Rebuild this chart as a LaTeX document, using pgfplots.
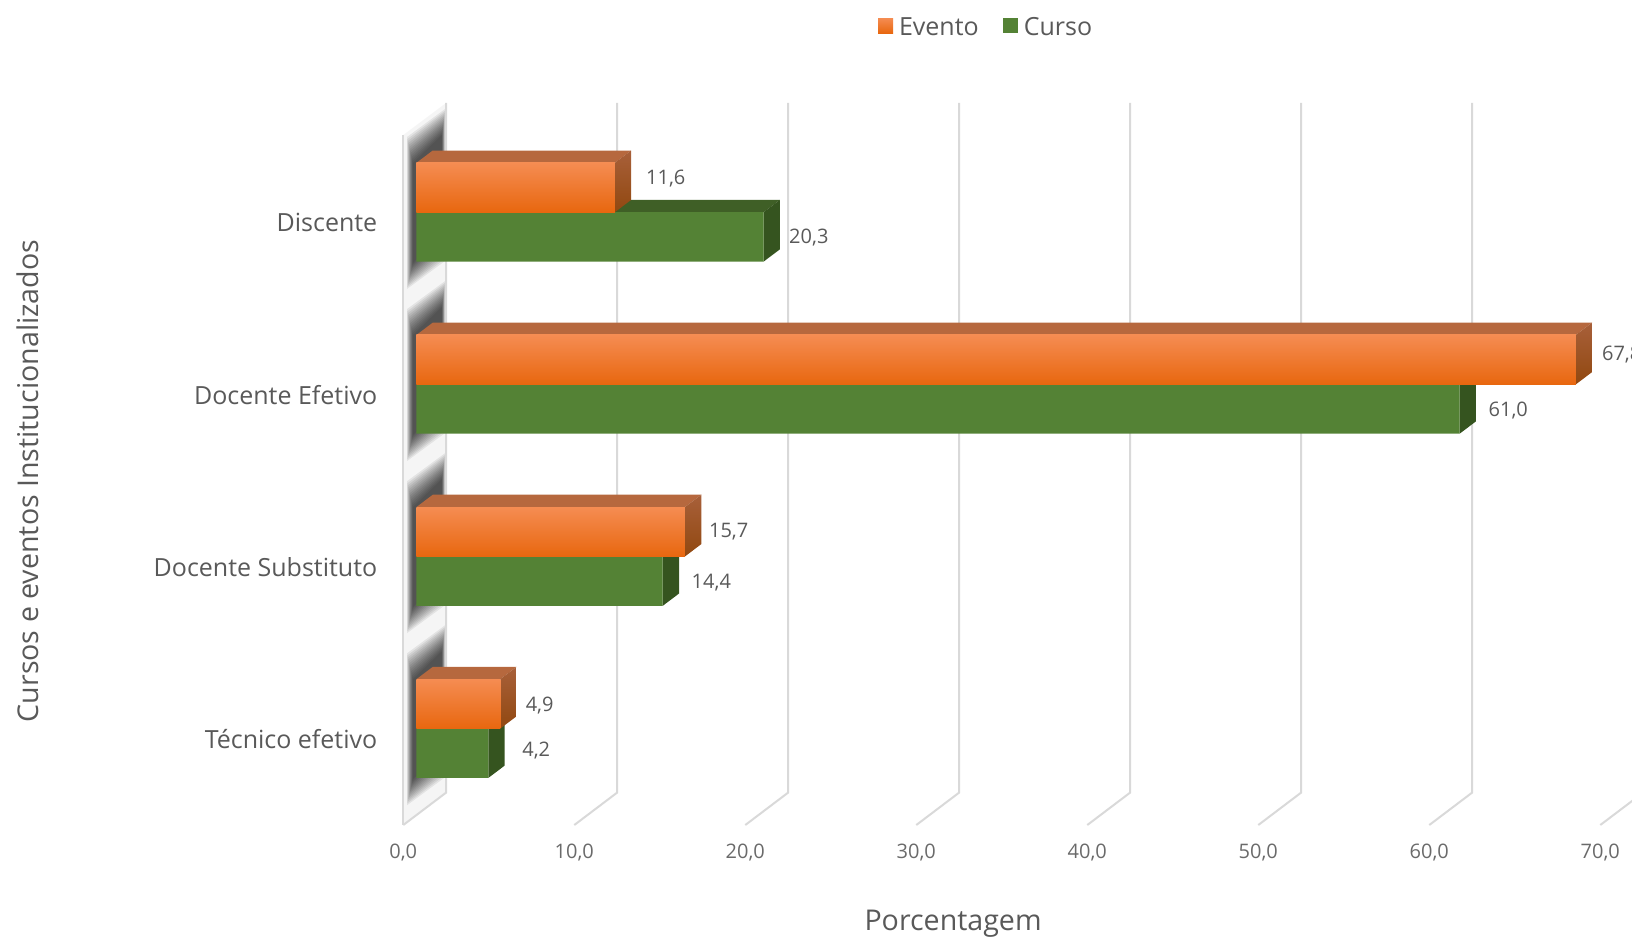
\documentclass[border=0pt]{standalone}
\usepackage{fontspec}
\setmainfont{Open Sans}
\usepackage{pgfplots}
\pgfplotsset{compat=1.18}

\definecolor{txt}{HTML}{595959}
\definecolor{gridc}{HTML}{D9D9D9}
\definecolor{orA}{HTML}{F58C52}
\definecolor{orB}{HTML}{F47B24}
\definecolor{orC}{HTML}{E8670F}
\definecolor{orTop}{HTML}{B6683E}
\definecolor{orSideA}{HTML}{A8603A}
\definecolor{orSideB}{HTML}{914810}
\definecolor{grF}{HTML}{548235}
\definecolor{grTop}{HTML}{3F5F26}
\definecolor{grSide}{HTML}{35541F}

% top and side faces of one bar: value, lower y, top style, side style
\newcommand{\faces}[4]{%
  \pgfmathsetmacro\xb{#1+0.953}%
  \pgfmathsetmacro\ya{#2+0.287}%
  \pgfmathsetmacro\yb{#2+0.3585}%
  \pgfmathsetmacro\yc{#2+0.0715}%
  \edef\temp{\noexpand\addplot[plane,forget plot,draw=none,#3] coordinates {(0,\ya) (#1,\ya) (\xb,\yb) (0.953,\yb)} --cycle;
    \noexpand\addplot[plane,forget plot,draw=none,#4] coordinates {(#1,#2) (#1,\ya) (\xb,\yb) (\xb,\yc)} --cycle;}%
  \temp
}
% value label: value, y, offset from the bar end in image pixels
\newcommand{\lab}[4]{%
  \addplot[plane,forget plot,draw=none,mark=none,point meta=x,nodes near coords,
    nodes near coords style={anchor=center,text=txt,inner sep=0pt,
      font=\fontsize{10}{12}\selectfont,xshift=#3*0.5pt-0.4pt,yshift=#4*0.5pt-0.4pt}]
    coordinates {(#1,#2)};
}

\begin{document}
\begin{tikzpicture}
% image pixels, y downwards
\begin{scope}[x=0.5pt,y=-0.5pt,shift={(-201.65pt,412.5pt)}]
  \useasboundingbox (0,0) rectangle (1632,939);
  % side wall
  \fill[black!4] (403.3,825) -- (446,792.7) -- (446,103) -- (403.3,135) -- cycle;
  % blurred shadow behind each group
  \foreach \off in {0,172.1,344.2,516.3} {
    \foreach \i in {0,...,13} {
      \fill[black,opacity=0.07]
        ({407+0.45*\i},{137+\off+2*\i}) -- ({445-0.25*\i},{109+\off+2*\i})
        -- ({445-0.25*\i},{261+\off-2*\i}) -- ({407+0.45*\i},{289+\off-2*\i}) -- cycle;
    }
  }
  % wall edge and grid
  \draw[gridc,line width=1pt] (403.3,135) -- (403.3,825);
  \foreach \k in {0,...,7} {
    \draw[gridc,line width=1pt] ({403.3+171*\k},825) -- ({446+171*\k},792.7) -- ({446+171*\k},103);
  }
\end{scope}

\begin{axis}[
    at={(0pt,0pt)}, anchor=south west,
    scale only axis,
    width=598.5pt, height=345pt,
    clip=false,
    xmin=0, xmax=70,
    ymin=-0.5, ymax=3.509,
    xtick={0,10,...,70},
    ytick={0,1,2,3},
    yticklabels={Técnico efetivo,Docente Substituto,Docente Efetivo,Discente},
    axis line style={draw=none},
    tick style={draw=none},
    /pgf/number format/assume math mode=true,
    /pgf/number format/use comma,
    /pgf/number format/fixed,
    /pgf/number format/fixed zerofill,
    /pgf/number format/precision=1,
    xticklabel style={font=\fontsize{10}{12}\selectfont,text=txt!90,yshift=-6.2pt},
    yticklabel style={font=\fontsize{12.5}{15}\selectfont,text=txt,xshift=-9.5pt},
    xlabel={Porcentagem},
    ylabel={Cursos e eventos Institucionalizados},
    xlabel style={at={(axis description cs:0.4593,-0.1435)},anchor=center,font=\fontsize{14.3}{17}\selectfont,text=txt},
    ylabel style={at={(axis description cs:-0.3135,0.4986)},anchor=center,font=\fontsize{14.3}{17}\selectfont,text=txt},
    legend style={at={(axis description cs:0.4877,1.1555)},anchor=center,draw=none,fill=none,
      font=\fontsize{12.5}{15}\selectfont,text=txt,legend columns=2,
      /tikz/every even column/.append style={column sep=10pt}},
    reverse legend,
    plane/.style={xshift=6.6pt,yshift=5.2pt},
    swatch/.style={legend image code/.code={\path[##1] (0pt,-7.9pt) rectangle (7.5pt,-0.4pt); \path (8.5pt,0pt);}},
    evento/.style={xbar,plane,draw=none,top color=orA,middle color=orB,bottom color=orC,bar width=24.7pt,bar shift=12.35pt},
]
% Curso
\faces{20.3}{2.713}{fill=grTop}{fill=grSide}
\faces{61.0}{1.713}{fill=grTop}{fill=grSide}
\faces{14.4}{0.713}{fill=grTop}{fill=grSide}
\faces{4.2}{-0.287}{fill=grTop}{fill=grSide}
\addplot[xbar,plane,draw=none,fill=grF,bar width=24.7pt,bar shift=-12.35pt,swatch]
  coordinates {(20.3,3) (61.0,2) (14.4,1) (4.2,0)};
\addlegendentry{Curso}

% Evento, one plot per bar so that each has its own gradient
\faces{11.6}{3}{fill=orTop}{top color=orSideA,bottom color=orSideB}
\faces{67.8}{2}{fill=orTop}{top color=orSideA,bottom color=orSideB}
\faces{15.7}{1}{fill=orTop}{top color=orSideA,bottom color=orSideB}
\faces{4.9}{0}{fill=orTop}{top color=orSideA,bottom color=orSideB}
\addplot[evento,forget plot] coordinates {(67.8,2)};
\addplot[evento,forget plot] coordinates {(15.7,1)};
\addplot[evento,forget plot] coordinates {(4.9,0)};
\addplot[evento,swatch] coordinates {(11.6,3)};
\addlegendentry{Evento}

% value labels
\lab{11.6}{3.1435}{51.7}{9.7}
\lab{67.8}{2.1435}{46.6}{5.7}
\lab{15.7}{1.1435}{44.5}{1.0}
\lab{4.9}{0.1435}{40.2}{-0.5}
\lab{20.3}{2.8565}{46.0}{0.0}
\lab{61.0}{1.8565}{49.5}{-1.0}
\lab{14.4}{0.8565}{49.4}{-1.0}
\lab{4.2}{-0.1435}{48.7}{3.3}
\end{axis}
\pgfresetboundingbox
\begin{scope}[x=0.5pt,y=-0.5pt,shift={(-201.65pt,412.5pt)}]
  \useasboundingbox (0,0) rectangle (1632,939);
\end{scope}
\end{tikzpicture}
\end{document}
